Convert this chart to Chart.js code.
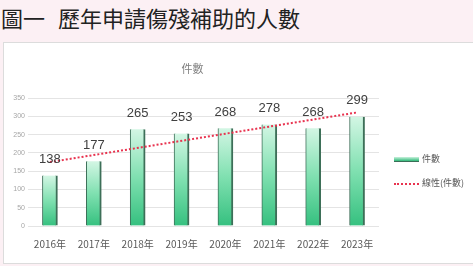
<!DOCTYPE html>
<html>
<head>
<meta charset="utf-8">
<script src="https://cdn.jsdelivr.net/npm/chart.js@4/dist/chart.umd.min.js"></script>
<style>
  html, body { margin: 0; padding: 0; }
  body { width: 473px; height: 266px; background: #fcf0f4; position: relative; overflow: hidden;
         font-family: "Noto Sans CJK TC", "Noto Sans", sans-serif; }
  .fig-title { position: absolute; left: 1px; top: 2px; font-size: 22px; line-height: 30px; color: #222;
               letter-spacing: 0px; white-space: nowrap; }
  .fig-title .gap { display: inline-block; width: 13px; }
  .box { position: absolute; left: 3px; top: 42px; width: 469px; height: 220px; background: #fff;
         border: 1px solid #dcdcdc; border-right: none; }
  .legend { position: absolute; left: 390px; font-size: 9px; color: #595959; white-space: nowrap; }
  .legend .sw { display: inline-block; width: 25px; vertical-align: middle; margin-right: 3px; }
</style>
</head>
<body>
<div class="fig-title">圖一<span class="gap"></span>歷年申請傷殘補助的人數</div>
<div class="box">
  <canvas id="chart" width="469" height="220"></canvas>
  <div class="legend" style="top:109px"><span class="sw" style="height:4px;background:linear-gradient(#c9f2dd,#2fb878);border-bottom:1px solid #3a6e57"></span>件數</div>
  <div class="legend" style="top:133px"><span class="sw" style="border-top:2px dotted #e8334f"></span>線性(件數)</div>
</div>
<script>
'use strict';

/* ─── Data ──────────────────────────────────────────────────── */
const years      = ['2016年', '2017年', '2018年', '2019年', '2020年', '2021年', '2022年', '2023年'];
const counts     = [138, 177, 265, 253, 268, 278, 268, 299];
const trendEnds  = [175, 311];   // linear trendline read at first and last year
const yTicks     = [0, 50, 100, 150, 200, 250, 300, 350];

/* Bar fill: mint at top, deeper green at the base of each bar */
function barFill(ctx) {
  const chart = ctx.chart;
  const y = chart.scales.y;
  if (!y || ctx.type !== 'data' || typeof ctx.raw !== 'number') return '#7fe0b0';
  const top = y.getPixelForValue(ctx.raw);
  const bot = y.getPixelForValue(0);
  if (!Number.isFinite(top) || !Number.isFinite(bot) || top === bot) return '#7fe0b0';
  const g = chart.ctx.createLinearGradient(0, top, 0, bot);
  g.addColorStop(0,   '#d3f6e4');
  g.addColorStop(0.5, '#7fe0b0');
  g.addColorStop(1,   '#35c07f');
  return g;
}

/* Value labels above bars */
const valueLabels = {
  id: 'valueLabels',
  afterDatasetsDraw(chart) {
    const meta = chart.getDatasetMeta(1);
    const c = chart.ctx;
    c.save();
    c.font = '13px "Liberation Sans", Arial, sans-serif';
    c.fillStyle = '#404040';
    c.textAlign = 'center';
    c.textBaseline = 'middle';
    meta.data.forEach((bar, i) => {
      c.fillText(String(counts[i]), bar.x, bar.y - 16);
    });
    c.restore();
  }
};

new Chart(document.getElementById('chart'), {
  data: {
    labels: years,
    datasets: [
      {
        type: 'line',
        label: '線性(件數)',
        data: [{ x: years[0], y: trendEnds[0] }, { x: years[years.length - 1], y: trendEnds[1] }],
        borderColor: '#e8334f',
        borderWidth: 2,
        borderDash: [2, 2],
        pointRadius: 0,
        fill: false,
        order: 0
      },
      {
        type: 'bar',
        label: '件數',
        data: counts,
        backgroundColor: barFill,
        borderColor: '#3d6f58',
        borderWidth: { left: 1, right: 2, top: 0, bottom: 0 },
        borderSkipped: false,
        barThickness: 15,
        order: 1
      }
    ]
  },
  options: {
    responsive: false,
    animation: false,
    layout: { padding: { left: 2, right: 94, top: 0, bottom: 9 } },
    plugins: {
      legend: { display: false },
      tooltip: { enabled: false },
      title: {
        display: true,
        text: '件數',
        color: '#7f7f7f',
        font: { size: 11, family: '"Noto Sans CJK TC", sans-serif', weight: 'normal' },
        padding: { top: 19, bottom: 23 }
      }
    },
    scales: {
      x: {
        grid: { display: false },
        border: { display: false },
        ticks: { color: '#595959', padding: 4, font: { size: 10, family: '"Noto Sans CJK TC", sans-serif' }, maxRotation: 0 }
      },
      y: {
        min: 0, max: 350,
        afterBuildTicks: s => { s.ticks = yTicks.map(v => ({ value: v })); },
        afterFit: s => { s.width = 22; },
        grid: { color: '#e4e4e4', lineWidth: 1, drawTicks: false },
        border: { display: false },
        ticks: { color: '#a6a6a6', padding: 3, font: { size: 7 } }
      }
    }
  },
  plugins: [valueLabels]
});
</script>
</body>
</html>
